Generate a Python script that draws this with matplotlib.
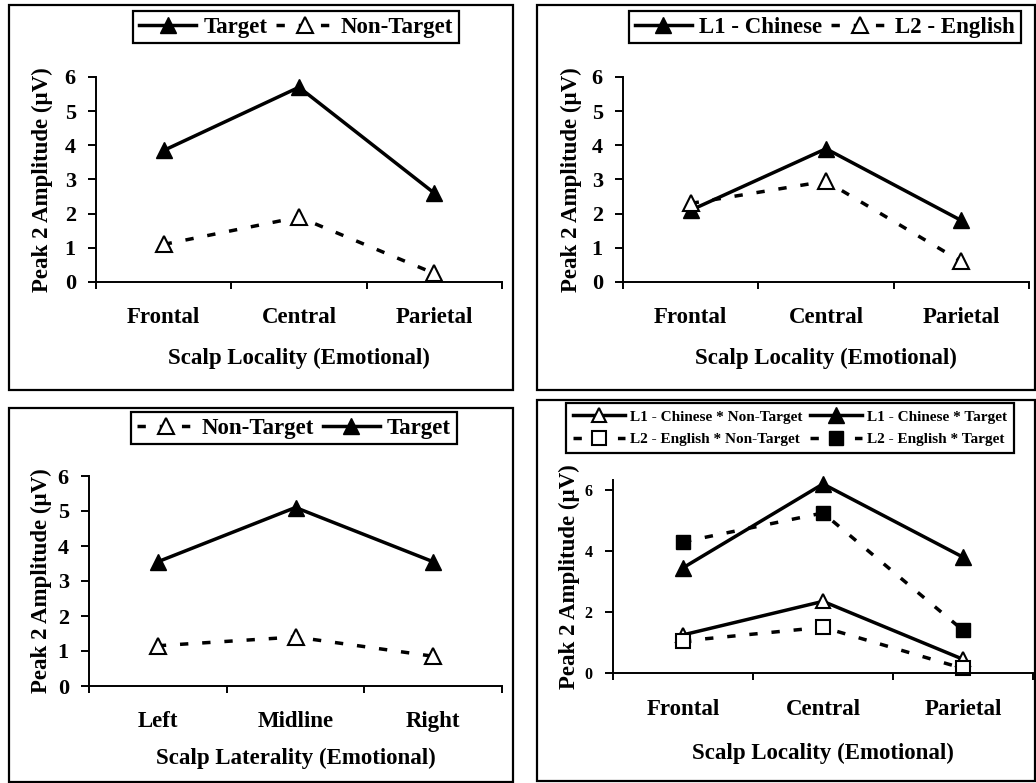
import matplotlib
matplotlib.use("Agg")
import matplotlib.pyplot as plt
from matplotlib.patches import Rectangle

plt.rcParams['font.family'] = ['Liberation Serif', 'DejaVu Serif']
plt.rcParams['font.weight'] = 'bold'
plt.rcParams['axes.labelweight'] = 'bold'

W, H = 1036, 783

# data
locality = ["Frontal", "Central", "Parietal"]
laterality = ["Left", "Midline", "Right"]

loc_target = [3.85, 5.7, 2.6]
loc_nontarget = [1.1, 1.9, 0.25]

lang_l1 = [2.1, 3.9, 1.8]
lang_l2 = [2.3, 2.95, 0.6]

lat_nontarget = [1.15, 1.4, 0.85]
lat_target = [3.55, 5.1, 3.55]

l1_nontarget = [1.25, 2.35, 0.45]
l1_target = [3.45, 6.2, 3.8]
l2_nontarget = [1.05, 1.5, 0.15]
l2_target = [4.3, 5.25, 1.4]

LW = 2.5
DASH = (0, (2.4, 4.0))
FS = 16.5


def px_axes(fig, left, top, right, bottom):
    # axes placed by pixel edges
    return fig.add_axes([left / W, 1 - bottom / H, (right - left) / W, (bottom - top) / H])


def panel_box(fig, left, top, right, bottom):
    fig.patches.append(Rectangle((left / W, 1 - bottom / H), (right - left) / W, (bottom - top) / H,
                                 transform=fig.transFigure, fill=False, edgecolor='black',
                                 linewidth=1.6, zorder=0))


def style_axes(ax, cats, ymax, yticks, ytick_size, xlab, xlab_y, ylab_x, cat_pad):
    ax.set_xlim(-0.5, 2.5)
    ax.set_ylim(0, ymax)
    ax.spines['top'].set_visible(False)
    ax.spines['right'].set_visible(False)
    ax.spines['left'].set_linewidth(1.4)
    ax.spines['bottom'].set_linewidth(1.4)
    ax.set_xticks([-0.5, 0.5, 1.5, 2.5])
    ax.set_xticklabels([])
    ax.set_xticks([0, 1, 2], cats, minor=True)
    ax.tick_params(axis='x', which='major', direction='out', length=5, width=1.4)
    ax.tick_params(axis='x', which='minor', length=0, pad=cat_pad, labelsize=FS)
    ax.set_yticks(yticks)
    ax.tick_params(axis='y', direction='out', length=6, width=1.4, pad=8.5, labelsize=ytick_size)
    for t in ax.get_xticklabels(minor=True) + ax.get_yticklabels():
        t.set_fontweight('bold')
    ax.set_xlabel(xlab, fontsize=FS, fontweight='bold')
    ax.xaxis.set_label_coords(0.5, xlab_y)
    ax.xaxis.label.set_verticalalignment('center')
    ax.set_ylabel("Peak 2 Amplitude (µV)", fontsize=16.5, fontweight='bold')
    ax.yaxis.set_label_coords(ylab_x, 0.5)
    ax.yaxis.label.set_verticalalignment('center')


def put_legend(fig, ax, cx, cy, handles=None, labels=None, size=FS, hlen=2.5,
               colsp=0.4, lspace=0.25, bpad=0.25):
    if handles is None:
        handles, labels = ax.get_legend_handles_labels()
    leg = ax.legend(handles, labels, loc='center', bbox_to_anchor=(cx / W, 1 - cy / H),
                    bbox_transform=fig.transFigure, ncol=2, frameon=True, fancybox=False,
                    edgecolor='black', framealpha=1, prop={'size': size, 'weight': 'bold'},
                    handlelength=hlen, handletextpad=0.3, columnspacing=colsp,
                    borderpad=bpad, borderaxespad=0, labelspacing=lspace)
    leg.get_frame().set_linewidth(1.6)
    return leg


fig = plt.figure(figsize=(W / 100, H / 100), dpi=100)

# panel frames
panel_box(fig, 9, 5, 513, 390)
panel_box(fig, 537, 5, 1035, 390)
panel_box(fig, 9, 408, 513, 782)
panel_box(fig, 537, 400, 1035, 781)

x = [0, 1, 2]

# top left: target vs non-target by locality
ax1 = px_axes(fig, 96, 77, 502, 282)
ax1.plot(x, loc_target, color='black', lw=LW, marker='^', ms=11, mfc='black', mec='black',
         label="Target", clip_on=False)
ax1.plot(x, loc_nontarget, color='black', lw=LW, ls=DASH, marker='^', ms=11, mfc='white',
         mec='black', mew=1.5, label="Non-Target", clip_on=False)
style_axes(ax1, locality, 6, range(0, 7), 16, "Scalp Locality (Emotional)", -0.375, -0.132, 18)
put_legend(fig, ax1, 296, 27)

# top right: language by locality
ax2 = px_axes(fig, 623, 77, 1029, 282)
ax2.plot(x, lang_l1, color='black', lw=LW, marker='^', ms=11, mfc='black', mec='black',
         label="L1 - Chinese", clip_on=False)
ax2.plot(x, lang_l2, color='black', lw=LW, ls=DASH, marker='^', ms=11, mfc='white',
         mec='black', mew=1.5, label="L2 - English", clip_on=False)
style_axes(ax2, locality, 6, range(0, 7), 16, "Scalp Locality (Emotional)", -0.375, -0.128, 18)
put_legend(fig, ax2, 825, 27)

# bottom left: target vs non-target by laterality
ax3 = px_axes(fig, 89, 476, 502, 686)
ax3.plot(x, lat_nontarget, color='black', lw=LW, ls=DASH, marker='^', ms=11, mfc='white',
         mec='black', mew=1.5, label="Non-Target", clip_on=False)
ax3.plot(x, lat_target, color='black', lw=LW, marker='^', ms=11, mfc='black', mec='black',
         label="Target", clip_on=False)
style_axes(ax3, laterality, 6, range(0, 7), 16, "Scalp Laterality (Emotional)", -0.345, -0.116, 18)
put_legend(fig, ax3, 294, 428)

# bottom right: language x condition by locality
ax4 = px_axes(fig, 613, 480, 1033, 673)
ax4.plot(x, l1_nontarget, color='black', lw=LW, marker='^', ms=10, mfc='white', mec='black',
         mew=1.5, label="L1 - Chinese * Non-Target", clip_on=False)
ax4.plot(x, l1_target, color='black', lw=LW, marker='^', ms=11, mfc='black', mec='black',
         label="L1 - Chinese * Target", clip_on=False)
ax4.plot(x, l2_nontarget, color='black', lw=LW, ls=DASH, marker='s', ms=9.5, mfc='white',
         mec='black', mew=1.5, label="L2 - English * Non-Target", clip_on=False)
ax4.plot(x, l2_target, color='black', lw=LW, ls=DASH, marker='s', ms=10, mfc='black',
         mec='black', label="L2 - English * Target", clip_on=False)
style_axes(ax4, locality, 6.33, [0, 2, 4, 6], 11.5, "Scalp Locality (Emotional)", -0.418, -0.104, 19)
h, l = ax4.get_legend_handles_labels()
order = [0, 2, 1, 3]
put_legend(fig, ax4, 790, 428, [h[i] for i in order], [l[i] for i in order],
           size=11, hlen=3.4, colsp=0.5, lspace=0.55, bpad=0.45)

fig.savefig("out.png", dpi=100)
